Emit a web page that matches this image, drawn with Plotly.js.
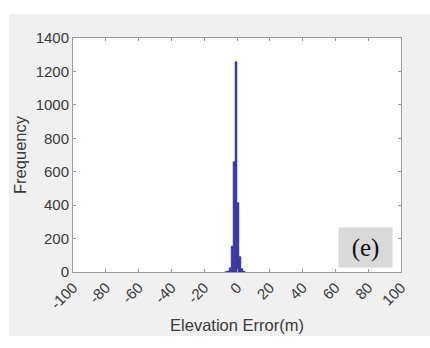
<!DOCTYPE html>
<html>
<head>
<meta charset="utf-8">
<script src="https://cdn.plot.ly/plotly-3.0.1.min.js"></script>
<style>html,body{margin:0;padding:0;background:#fff;}#chart{width:430px;height:348px;}</style>
</head>
<body>
<div id="chart"></div>
<script>
// Histogram bin centers (m) and counts
const binCenters = [-6.6, -5.4, -4.2, -3.0, -1.8, -0.6, 0.6, 1.8, 3.0, 4.2];
const counts     = [2, 6, 25, 155, 660, 1258, 415, 92, 20, 5];
const xTicks = [-100, -80, -60, -40, -20, 0, 20, 40, 60, 80, 100];
const yTicks = [0, 200, 400, 600, 800, 1000, 1200, 1400];
const xTitle = 'Elevation Error(m)';
const yTitle = 'Frequency';
const panelLabel = '(e)';

const trace = {
  type: 'bar',
  x: binCenters,
  y: counts,
  width: 1.2,
  marker: {color: '#4242b4', line: {color: '#2a2a84', width: 0.5}},
  hoverinfo: 'x+y'
};

const axisCommon = {
  showline: true, mirror: 'ticks', linecolor: '#9a9a9a', linewidth: 1,
  ticks: 'inside', ticklen: 3, tickcolor: '#9a9a9a',
  showgrid: false, zeroline: false,
  tickfont: {family: 'Liberation Sans, Arial, sans-serif', size: 15, color: '#3a3a3a'}
};

const layout = {
  width: 430, height: 348,
  margin: {l: 73, r: 29, t: 38, b: 76},
  paper_bgcolor: '#f0f0f0',
  plot_bgcolor: '#ffffff',
  showlegend: false,
  bargap: 0,
  xaxis: Object.assign({}, axisCommon, {
    range: [-100, 100], tickvals: xTicks, ticktext: xTicks.map(String),
    tickangle: -45, fixedrange: true,
    title: {text: xTitle, standoff: 8,
            font: {family: 'Liberation Sans, Arial, sans-serif', size: 16.5, color: '#3a3a3a'}}
  }),
  yaxis: Object.assign({}, axisCommon, {
    range: [0, 1400], tickvals: yTicks, ticktext: yTicks.map(String), fixedrange: true,
    title: {text: yTitle, standoff: 4,
            font: {family: 'Liberation Sans, Arial, sans-serif', size: 16.5, color: '#3a3a3a'}}
  }),
  shapes: [
    {type: 'rect', xref: 'paper', yref: 'paper', x0: -0.25, x1: 1.2, y0: 1.1026, y1: 1.2,
     fillcolor: '#ffffff', line: {width: 0}, layer: 'below'},
    {type: 'rect', xref: 'paper', yref: 'paper', x0: -0.25, x1: -0.195, y0: -0.4, y1: 1.2,
     fillcolor: '#ffffff', line: {width: 0}, layer: 'below'},
    {type: 'rect', xref: 'paper', yref: 'paper', x0: -0.25, x1: 1.2, y0: -0.4, y1: -0.2735,
     fillcolor: '#ffffff', line: {width: 0}, layer: 'below'}
  ],
  annotations: [{
    text: panelLabel, xref: 'paper', yref: 'paper', x: 0.892, y: 0.1047,
    xanchor: 'center', yanchor: 'middle', showarrow: false,
    width: 53, height: 39, bgcolor: '#d9d9d9', borderpad: 0,
    font: {family: 'Liberation Serif, Times New Roman, serif', size: 25, color: '#111111'}
  }]
};

Plotly.newPlot('chart', [trace], layout, {displayModeBar: false, staticPlot: true});
</script>
</body>
</html>
